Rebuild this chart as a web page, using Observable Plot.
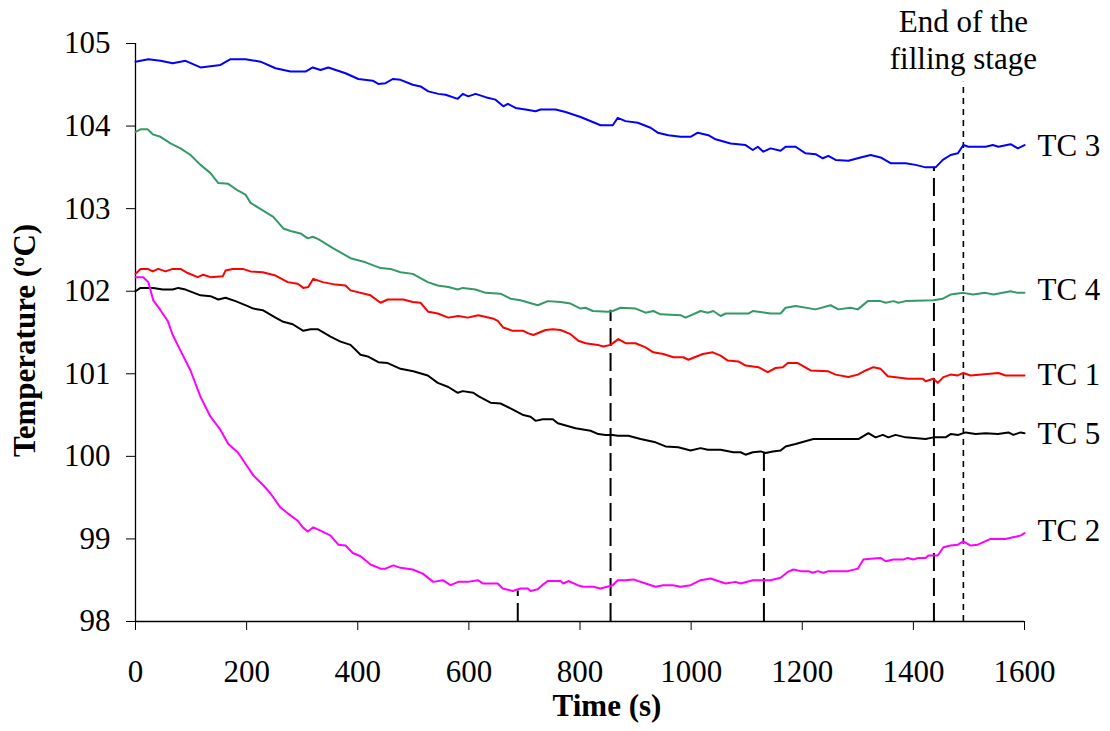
<!DOCTYPE html>
<html><head><meta charset="utf-8">
<script src="https://cdn.jsdelivr.net/npm/d3@7"></script>
<script src="https://cdn.jsdelivr.net/npm/@observablehq/plot@0.6"></script>
<style>body{margin:0;background:#fff} svg{display:block}</style>
</head><body><div id="chart"></div>
<script>
// [time (s), temperature (ºC)]
const tc3 = [[0,104.78],[23,104.81],[45,104.79],[67,104.76],[90,104.79],[117,104.71],[153,104.74],[171,104.81],[198,104.81],[225,104.78],[252,104.70],[279,104.66],[306,104.66],[319,104.71],[333,104.68],[347,104.71],[378,104.64],[401,104.57],[427,104.55],[437,104.51],[450,104.52],[463,104.57],[477,104.56],[499,104.50],[513,104.48],[527,104.42],[545,104.39],[558,104.38],[580,104.33],[589,104.39],[599,104.36],[612,104.39],[630,104.35],[648,104.32],[662,104.24],[670,104.27],[684,104.22],[702,104.20],[720,104.18],[729,104.20],[756,104.20],[774,104.17],[801,104.11],[837,104.01],[859,104.01],[868,104.10],[882,104.06],[904,104.04],[927,103.98],[940,103.92],[959,103.89],[981,103.87],[999,103.87],[1012,103.92],[1031,103.89],[1044,103.84],[1071,103.79],[1098,103.77],[1111,103.71],[1120,103.75],[1130,103.69],[1143,103.73],[1161,103.70],[1170,103.75],[1188,103.75],[1206,103.67],[1224,103.66],[1237,103.61],[1247,103.64],[1260,103.59],[1283,103.58],[1305,103.62],[1323,103.65],[1341,103.62],[1359,103.55],[1386,103.55],[1404,103.53],[1422,103.50],[1440,103.50],[1453,103.59],[1467,103.65],[1480,103.67],[1490,103.77],[1499,103.75],[1530,103.75],[1543,103.77],[1553,103.75],[1575,103.78],[1588,103.73],[1600,103.77]];
const tc4 = [[0,103.93],[9,103.96],[22,103.96],[31,103.90],[45,103.87],[63,103.79],[81,103.73],[99,103.65],[117,103.53],[135,103.43],[149,103.31],[167,103.30],[184,103.22],[198,103.17],[207,103.07],[229,102.98],[248,102.90],[266,102.76],[279,102.73],[297,102.70],[310,102.64],[319,102.66],[329,102.63],[356,102.52],[387,102.40],[414,102.35],[441,102.28],[459,102.27],[477,102.23],[499,102.21],[526,102.11],[544,102.07],[563,102.05],[580,102.02],[589,102.04],[612,102.02],[630,101.98],[657,101.97],[675,101.91],[693,101.89],[724,101.83],[742,101.88],[765,101.87],[783,101.85],[801,101.79],[810,101.80],[823,101.76],[850,101.75],[859,101.76],[873,101.80],[900,101.79],[918,101.74],[932,101.76],[945,101.72],[981,101.71],[990,101.68],[1017,101.76],[1030,101.74],[1040,101.76],[1053,101.70],[1062,101.73],[1103,101.73],[1111,101.76],[1143,101.73],[1161,101.73],[1170,101.80],[1188,101.82],[1224,101.78],[1251,101.83],[1265,101.78],[1287,101.80],[1300,101.78],[1318,101.88],[1341,101.88],[1350,101.86],[1364,101.88],[1373,101.86],[1386,101.88],[1436,101.89],[1453,101.91],[1467,101.96],[1490,101.98],[1507,101.96],[1530,101.98],[1544,101.96],[1575,102.00],[1588,101.98],[1600,101.98]];
const tc1 = [[0,102.21],[9,102.27],[22,102.27],[31,102.24],[41,102.27],[54,102.24],[67,102.27],[81,102.27],[94,102.22],[112,102.17],[122,102.20],[135,102.17],[157,102.18],[162,102.25],[175,102.27],[193,102.27],[207,102.24],[229,102.23],[252,102.19],[274,102.11],[292,102.09],[302,102.04],[311,102.05],[320,102.15],[337,102.11],[360,102.08],[378,102.07],[387,102.01],[423,101.95],[441,101.86],[454,101.90],[482,101.90],[499,101.87],[513,101.86],[527,101.75],[544,101.73],[563,101.68],[581,101.70],[598,101.68],[617,101.71],[643,101.67],[652,101.64],[662,101.56],[679,101.52],[698,101.52],[707,101.49],[716,101.47],[738,101.53],[751,101.54],[765,101.53],[783,101.48],[797,101.40],[810,101.37],[832,101.35],[842,101.33],[855,101.35],[869,101.42],[882,101.37],[900,101.37],[918,101.32],[932,101.26],[950,101.24],[968,101.20],[986,101.20],[995,101.17],[1021,101.24],[1039,101.26],[1053,101.22],[1066,101.16],[1085,101.15],[1098,101.10],[1121,101.08],[1138,101.02],[1152,101.07],[1165,101.08],[1174,101.13],[1192,101.13],[1215,101.04],[1247,101.03],[1260,100.99],[1283,100.96],[1300,100.99],[1314,101.04],[1328,101.08],[1341,101.06],[1354,100.97],[1390,100.94],[1417,100.94],[1422,100.91],[1436,100.94],[1444,100.89],[1454,100.96],[1467,100.99],[1480,100.98],[1490,101.01],[1503,100.98],[1553,101.01],[1566,100.98],[1600,100.98]];
const tc5 = [[0,102.00],[9,102.04],[32,102.04],[49,102.02],[67,102.02],[77,102.04],[90,102.02],[117,101.95],[135,101.94],[149,101.90],[162,101.92],[180,101.88],[202,101.82],[212,101.79],[229,101.77],[252,101.68],[266,101.63],[283,101.60],[302,101.52],[315,101.54],[328,101.54],[351,101.45],[369,101.39],[387,101.35],[405,101.23],[418,101.21],[437,101.14],[454,101.13],[477,101.06],[500,101.03],[526,100.98],[544,100.89],[563,100.84],[580,100.77],[589,100.79],[608,100.77],[617,100.73],[639,100.65],[657,100.64],[675,100.58],[698,100.50],[711,100.48],[720,100.43],[733,100.45],[751,100.45],[760,100.40],[792,100.34],[819,100.31],[833,100.27],[846,100.26],[859,100.26],[868,100.25],[887,100.25],[909,100.21],[936,100.17],[954,100.12],[977,100.11],[999,100.07],[1017,100.10],[1030,100.08],[1053,100.08],[1076,100.05],[1089,100.05],[1098,100.02],[1111,100.05],[1125,100.06],[1134,100.04],[1147,100.06],[1161,100.07],[1170,100.12],[1188,100.15],[1220,100.21],[1301,100.21],[1319,100.28],[1332,100.23],[1345,100.26],[1355,100.23],[1368,100.26],[1386,100.23],[1422,100.21],[1436,100.23],[1458,100.23],[1467,100.27],[1481,100.26],[1494,100.29],[1512,100.27],[1530,100.28],[1552,100.27],[1571,100.29],[1580,100.26],[1593,100.29],[1600,100.28]];
const tc2 = [[0,102.17],[14,102.17],[23,102.11],[32,101.89],[45,101.77],[58,101.64],[67,101.47],[81,101.28],[99,101.04],[117,100.72],[135,100.48],[153,100.32],[167,100.15],[184,100.05],[198,99.91],[212,99.77],[230,99.65],[243,99.55],[261,99.38],[274,99.31],[292,99.22],[301,99.14],[310,99.09],[320,99.14],[333,99.10],[351,99.04],[365,98.93],[378,98.92],[391,98.83],[405,98.79],[423,98.69],[441,98.64],[450,98.64],[464,98.68],[477,98.65],[499,98.63],[517,98.58],[536,98.48],[553,98.50],[567,98.44],[581,98.48],[598,98.48],[616,98.50],[626,98.46],[652,98.46],[661,98.40],[679,98.37],[693,98.40],[706,98.40],[711,98.37],[724,98.39],[734,98.45],[742,98.49],[765,98.49],[770,98.46],[779,98.49],[796,98.44],[806,98.42],[824,98.42],[837,98.40],[859,98.44],[868,98.50],[882,98.50],[896,98.51],[918,98.46],[936,98.42],[950,98.44],[967,98.44],[981,98.42],[999,98.44],[1017,98.50],[1035,98.52],[1062,98.46],[1080,98.48],[1089,98.46],[1111,98.50],[1130,98.50],[1143,98.50],[1161,98.53],[1174,98.60],[1184,98.63],[1197,98.61],[1211,98.61],[1219,98.59],[1228,98.61],[1238,98.59],[1247,98.61],[1282,98.61],[1300,98.64],[1310,98.75],[1323,98.76],[1341,98.77],[1350,98.73],[1364,98.75],[1382,98.75],[1390,98.77],[1400,98.75],[1409,98.77],[1422,98.77],[1427,98.80],[1444,98.80],[1454,98.90],[1467,98.92],[1480,98.93],[1490,98.97],[1503,98.92],[1516,98.93],[1539,99.00],[1566,99.00],[1579,99.02],[1593,99.04],[1600,99.07]];

const seriesNames = ["TC 3", "TC 4", "TC 1", "TC 5", "TC 2"];
const seriesData = [tc3, tc4, tc1, tc5, tc2];
const seriesColors = ["#0000ff", "#339966", "#ff0000", "#000000", "#ff00ff"];
const labelTemps = [103.76, 102.01, 100.99, 100.27, 99.10];

const xTicks = [0, 200, 400, 600, 800, 1000, 1200, 1400, 1600];
const yTicks = [98, 99, 100, 101, 102, 103, 104, 105];

const minimumTimes = [688, 855, 1131, 1437];
const minimumTemps = [98.37, 101.77, 100.04, 103.50];
const fillEndTime = [1490];
const fillEndTop = [104.53];
const fillEndText = ["End of the\nfilling stage"];
const fillEndTextTemp = [105.47];

const xLabel = ["Time (s)"];
const yLabel = ["Temperature (ºC)"];

const font = "'Liberation Serif','Times New Roman',Times,serif";

const minRows = minimumTimes.map((t, i) => ({t, bottom: 98, top: minimumTemps[i]}));
const fillRows = fillEndTime.map((t, i) => ({t, bottom: 98, top: fillEndTop[i]}));
const labelRows = seriesNames.map((name, i) => ({name, t: 1600, v: labelTemps[i]}));
const noteRows = fillEndText.map((text, i) => ({text, t: fillEndTime[i], v: fillEndTextTemp[i]}));

const lineMarks = seriesData.map((data, i) =>
  Plot.line(data, {x: d => d[0], y: d => d[1], stroke: seriesColors[i], strokeWidth: 2})
);

const chart = Plot.plot({
  width: 1110,
  height: 731,
  marginLeft: 135,
  marginRight: 86,
  marginTop: 43,
  marginBottom: 110,
  style: {fontFamily: font, background: "#fff", color: "#000"},
  x: {domain: [0, 1600]},
  y: {domain: [98, 105]},
  marks: [
    Plot.axisX({ticks: xTicks, tickSize: 9, tickPadding: 29, fontSize: 31, fontFamily: font, label: null, tickFormat: d => String(d)}),
    Plot.axisY({ticks: yTicks, tickSize: 9, tickPadding: 16, fontSize: 31, fontFamily: font, label: null, tickFormat: d => String(d)}),
    Plot.ruleX([0], {stroke: "#000", strokeWidth: 1.3}),
    Plot.ruleY([98], {stroke: "#000", strokeWidth: 1.3}),
    Plot.ruleX(minRows, {x: "t", y1: "bottom", y2: "top", stroke: "#000", strokeWidth: 2, strokeDasharray: "18,7"}),
    Plot.ruleX(fillRows, {x: "t", y1: "bottom", y2: "top", stroke: "#000", strokeWidth: 1.6, strokeDasharray: "6,5"}),
    ...lineMarks,
    Plot.text(labelRows, {x: "t", y: "v", text: "name", dx: 13, textAnchor: "start", fontSize: 31, fontFamily: font}),
    Plot.text(noteRows, {x: "t", y: "v", text: "text", lineAnchor: "top", lineHeight: 1.22, fontSize: 31, fontFamily: font}),
    Plot.text(xLabel, {frameAnchor: "bottom", textAnchor: "middle", lineAnchor: "middle", dx: 27, dy: 85, fontSize: 31, fontWeight: "bold", fontFamily: font}),
    Plot.text(yLabel, {frameAnchor: "left", textAnchor: "middle", lineAnchor: "middle", rotate: -90, dx: -110, dy: 8, fontSize: 31, fontWeight: "bold", fontFamily: font})
  ]
});
document.getElementById("chart").appendChild(chart);
</script>
</body></html>
